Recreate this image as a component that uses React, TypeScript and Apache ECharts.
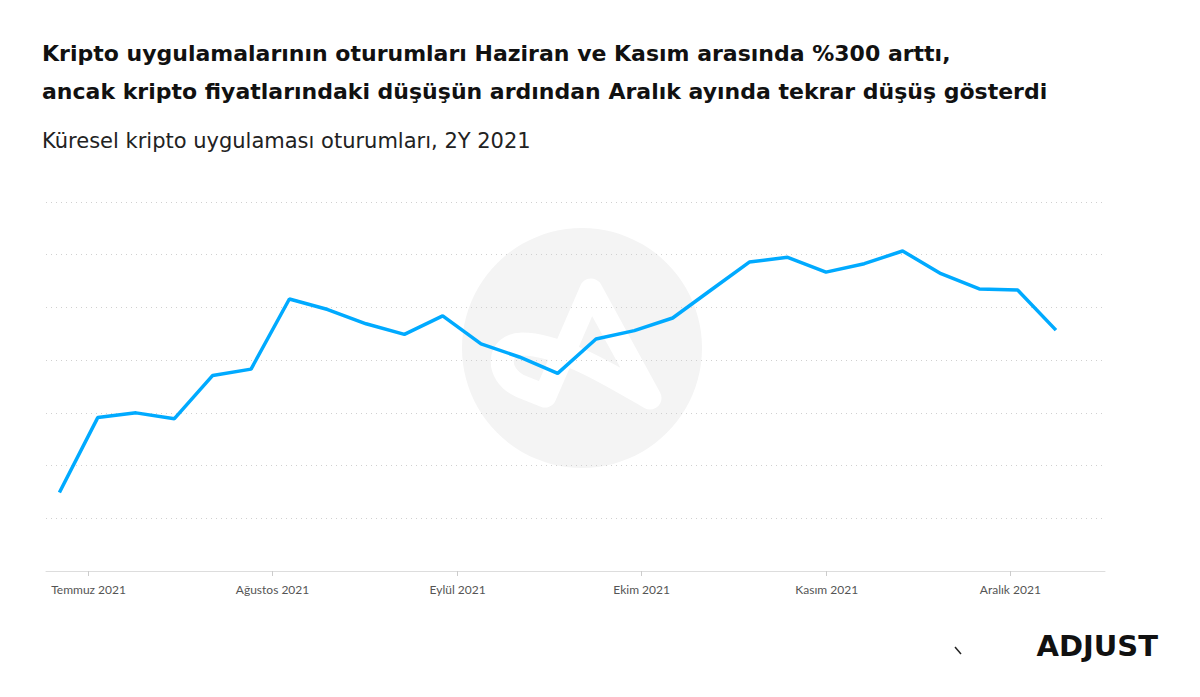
import React, { useEffect, useRef } from "react";
import * as echarts from "echarts";

// Weekly session index (arbitrary units; gridline step = 10)
const sessions: number[] = [
  14.9, 29.1, 30.0, 28.9, 37.1, 38.3, 51.6, 49.6, 46.9, 44.9, 48.4, 43.1, 40.6, 37.5,
  44.0, 45.6, 48.0, 53.3, 58.6, 59.5, 56.7, 58.3, 60.7, 56.4, 53.5, 53.3, 45.7,
];
// Month start positions, in units of the week index
const monthTickPositions: number[] = [0.76, 5.56, 10.39, 15.19, 20.02, 24.81];
const monthLabels: string[] = [
  "Temmuz 2021",
  "Ağustos 2021",
  "Eylül 2021",
  "Ekim 2021",
  "Kasım 2021",
  "Aralık 2021",
];

const titleText =
  "Kripto uygulamalarının oturumları Haziran ve Kasım arasında %300 arttı,\nancak kripto fiyatlarındaki düşüşün ardından Aralık ayında tekrar düşüş gösterdi";
const subtitleText = "Küresel kripto uygulaması oturumları, 2Y 2021";

const logoPath =
  "M 545 396 L 591 290 L 650 398 C 612 376 560 344 522 344 C 497 344 495 374 520 386 L 545 396";
echarts.graphic.registerShape(
  "adjustMark",
  echarts.graphic.extendPath(logoPath, {}) as any
);

export default function App() {
  const ref = useRef<HTMLDivElement>(null);

  useEffect(() => {
    document.body.style.margin = "0";
    if (!ref.current) return;
    const chart = echarts.init(ref.current, null, { renderer: "svg" });
    const font = "Lato, 'Noto Sans', sans-serif";
    const headFont = "'DejaVu Sans', 'Open Sans', sans-serif";
    chart.setOption({
      animation: false,
      backgroundColor: "#ffffff",
      textStyle: { fontFamily: font },
      title: [
        {
          text: titleText,
          left: 42,
          top: 34,
          padding: 0,
          textStyle: {
            fontFamily: headFont,
            fontSize: 22,
            fontWeight: "bold",
            color: "#111111",
            lineHeight: 38,
          },
        },
        {
          text: subtitleText,
          left: 42,
          top: 129,
          padding: 0,
          textStyle: {
            fontFamily: headFont,
            fontSize: 21,
            fontWeight: "normal",
            color: "#222222",
            lineHeight: 24,
          },
        },
      ],
      graphic: [
        {
          type: "circle",
          z: -10,
          silent: true,
          shape: { cx: 582, cy: 348, r: 120 },
          style: { fill: "#f4f4f4" },
        },
        {
          type: "adjustMark",
          z: -9,
          silent: true,
          x: 0,
          y: 0,
          style: {
            fill: "none",
            stroke: "#ffffff",
            lineWidth: 23,
            lineCap: "round",
            lineJoin: "round",
          },
        },
        {
          type: "line",
          silent: true,
          shape: { x1: 955, y1: 647, x2: 961, y2: 654 },
          style: { stroke: "#222222", lineWidth: 1.5 },
        },
        {
          type: "text",
          silent: true,
          right: 42,
          top: 631,
          style: {
            text: "ADJUST",
            font: "bold 29px 'DejaVu Sans', 'Noto Sans', sans-serif",
            fill: "#111111",
          },
        },
      ],
      grid: { left: 46, right: 95, top: 202, bottom: 126, containLabel: false },
      xAxis: {
        type: "value",
        min: -0.35,
        max: 27.28,
        axisLine: { show: true, lineStyle: { color: "#dddddd", width: 1 } },
        axisTick: {
          show: true,
          length: 5,
          customValues: monthTickPositions,
          lineStyle: { color: "#cccccc" },
        },
        axisLabel: {
          show: true,
          customValues: monthTickPositions,
          margin: 12,
          fontSize: 12,
          color: "#555555",
          fontFamily: font,
          formatter: (v: number) => {
            const idx = monthTickPositions.findIndex((p) => Math.abs(p - v) < 1e-6);
            return idx >= 0 ? monthLabels[idx] : "";
          },
        },
        splitLine: { show: false },
      },
      yAxis: {
        type: "value",
        min: 0,
        max: 70,
        interval: 10,
        axisLine: { show: false },
        axisTick: { show: false },
        axisLabel: { show: false },
        splitLine: {
          show: true,
          lineStyle: { color: "#d0d0d0", type: [1, 4], width: 1 },
        },
      },
      series: [
        {
          type: "line",
          data: sessions.map((v, i) => [i, v]),
          showSymbol: false,
          symbol: "none",
          lineStyle: { color: "#00aaff", width: 3.5 },
          itemStyle: { color: "#00aaff" },
          z: 5,
        },
      ],
    });
    return () => chart.dispose();
  }, []);

  return <div ref={ref} style={{ width: 1200, height: 697 }} />;
}
